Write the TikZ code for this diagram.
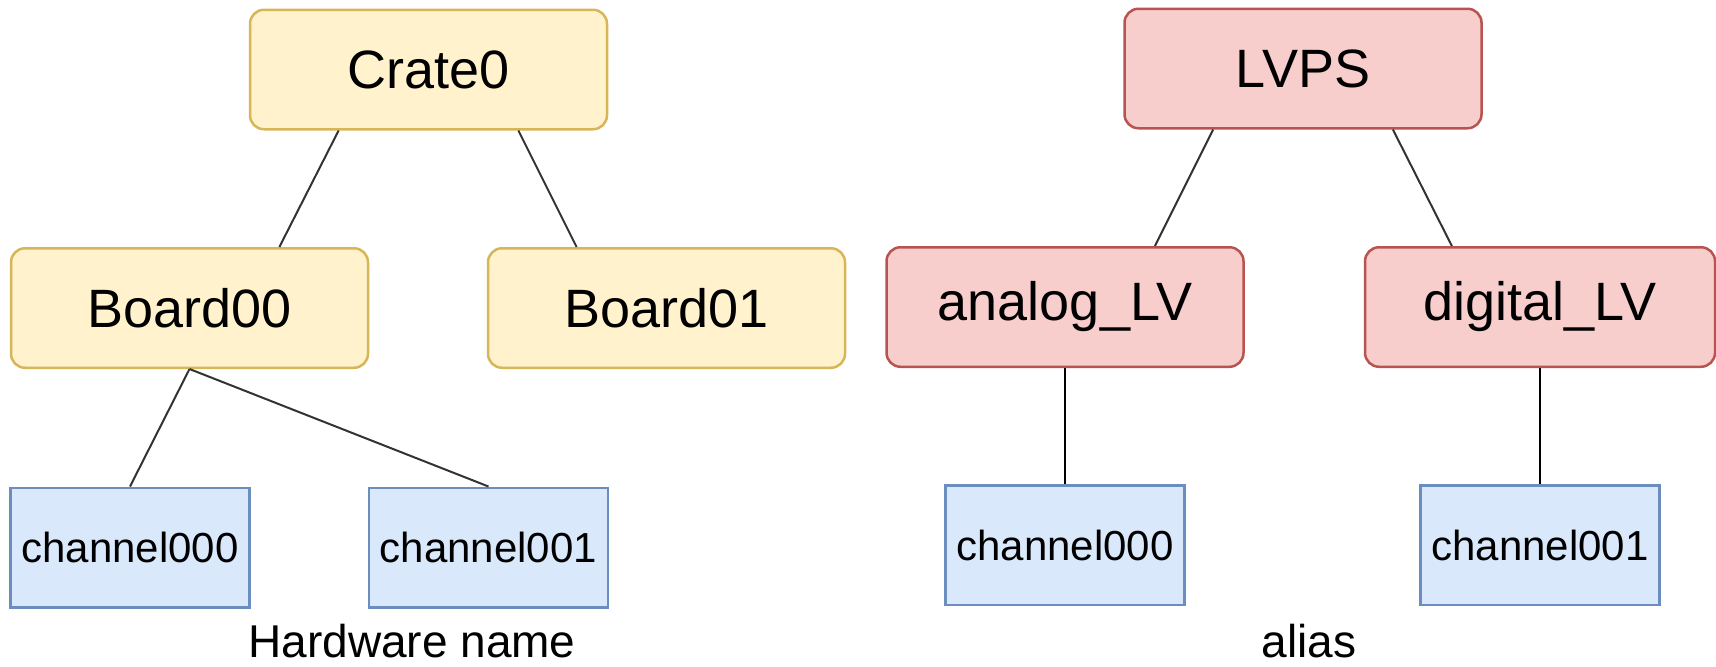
\documentclass[tikz,border=0pt]{standalone}
\usepackage{fontspec}
\setmainfont{Liberation Sans}
\usetikzlibrary{calc}
\definecolor{yfill}{HTML}{FFF2CC}
\definecolor{ydraw}{HTML}{D6B656}
\definecolor{rfill}{HTML}{F8CECC}
\definecolor{rdraw}{HTML}{B85450}
\definecolor{bfill}{HTML}{DAE8FC}
\definecolor{bdraw}{HTML}{6C8EBF}
\definecolor{edgegray}{HTML}{333333}
\tikzset{
  ybox/.style={draw=ydraw, fill=yfill, line width=1.25pt, rounded corners=7pt,
    minimum width=178.5pt, minimum height=59.75pt, inner sep=0pt,
    font=\fontsize{27pt}{30pt}\selectfont},
  rbox/.style={draw=rdraw, fill=rfill, line width=1.25pt, rounded corners=7pt,
    minimum width=178.5pt, minimum height=59.75pt, inner sep=0pt,
    font=\fontsize{27pt}{30pt}\selectfont},
  chbox/.style={draw=bdraw, fill=bfill, line width=1.25pt,
    minimum width=119.5pt, minimum height=59.75pt, inner sep=0pt,
    font=\fontsize{21pt}{24pt}\selectfont},
  caption/.style={inner sep=0pt, anchor=base, font=\fontsize{23pt}{26pt}\selectfont},
  slant/.style={draw=edgegray, line width=1pt},
  vert/.style={draw=black, line width=1pt},
}
\begin{document}
\begin{tikzpicture}[x=0.5pt, y=-0.5pt]
\useasboundingbox (0,0) rectangle (1716,666);
% left tree
\node[ybox] (crate) at (428.5,69.5) {Crate0};
\node[ybox] (b00) at (189.5,308) {Board00};
\node[ybox] (b01) at (666.5,308) {Board01};
\node[chbox] (c000l) at (130,547.5) {channel000};
\node[chbox] (c001l) at (488.5,547.5) {channel001};
\node[caption] (hwname) at (412,657) {Hardware name};
% right tree
\node[rbox] (lvps) at (1303,68.5) {LVPS};
\node[rbox] (analog) at (1065,307) {analog\_LV};
\node[rbox, minimum width=175pt] (digital) at (1540,307) {digital\_LV};
\node[chbox] (c000r) at (1065,545) {channel000};
\node[chbox] (c001r) at (1540,545) {channel001};
\node[caption] (alias) at (1309,657) {alias};
% connectors
\draw[slant] ($(crate.south west)!0.25!(crate.south east)$) -- ($(b00.north west)!0.75!(b00.north east)$);
\draw[slant] ($(crate.south west)!0.75!(crate.south east)$) -- ($(b01.north west)!0.25!(b01.north east)$);
\draw[slant] (b00.south) -- (c000l.north);
\draw[slant] (b00.south) -- (c001l.north);
\draw[slant] ($(lvps.south west)!0.25!(lvps.south east)$) -- ($(analog.north west)!0.75!(analog.north east)$);
\draw[slant] ($(lvps.south west)!0.75!(lvps.south east)$) -- ($(digital.north west)!0.25!(digital.north east)$);
\draw[vert] (analog.south) -- (c000r.north);
\draw[vert] (digital.south) -- (c001r.north);
\end{tikzpicture}
\end{document}
